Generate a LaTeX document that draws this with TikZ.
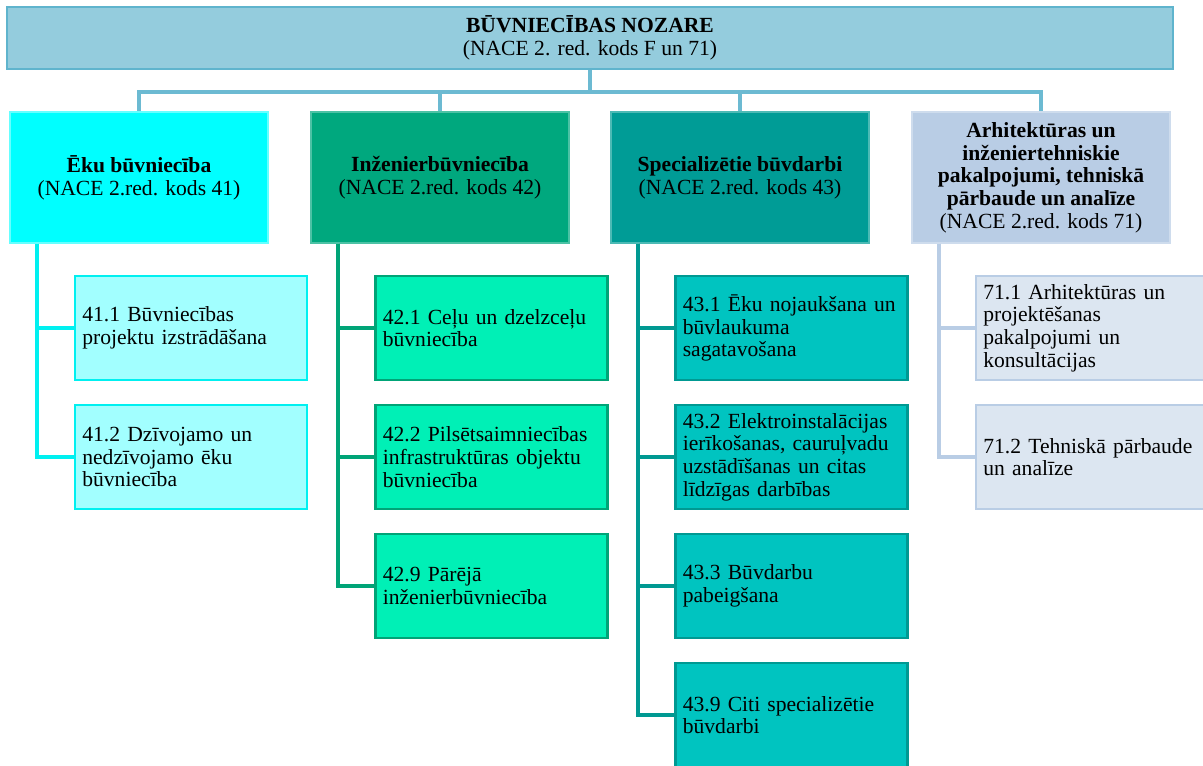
\documentclass[tikz,border=0pt]{standalone}
\usepackage{fontspec}
\setmainfont{Liberation Serif}
\usepackage{tikz}
\usetikzlibrary{calc}

\definecolor{topfill}{HTML}{94CCDD}
\definecolor{topline}{HTML}{5FB4CD}
\definecolor{busline}{HTML}{6CBAD2}
\definecolor{headA}{HTML}{00FFFF}
\definecolor{subA}{HTML}{A2FFFF}
\definecolor{lineA}{HTML}{00F0F0}
\definecolor{headB}{HTML}{00A87E}
\definecolor{subB}{HTML}{00F0B6}
\definecolor{lineB}{HTML}{00A477}
\definecolor{headC}{HTML}{009C96}
\definecolor{subC}{HTML}{00C4C0}
\definecolor{lineC}{HTML}{009992}
\definecolor{headD}{HTML}{B9CDE5}
\definecolor{subD}{HTML}{DCE6F1}
\definecolor{lineD}{HTML}{B9CDE5}

\begin{document}
\begin{tikzpicture}[x=0.75pt, y=-0.75pt,
    every node/.style={font=\fontsize{16.2}{17}\selectfont, inner sep=0pt},
    head/.style={minimum width=193.5pt, minimum height=98.25pt, align=center, line width=0.8pt},
    sub/.style={minimum width=174pt, minimum height=78pt, text width=163pt, inner xsep=5.5pt, align=left, line width=2.2pt},
    link/.style={line width=2.3pt}]

    %% Background
    \fill[white] (0,0) rectangle (1203,765);
    \clip (0,0) rectangle (1203,765);

    % Sector
    \node[draw=topline, fill=topfill, line width=2.2pt, minimum width=874.5pt, minimum height=46.5pt, align=center]
    (sector) at (590,38) {\textbf{BŪVNIECĪBAS NOZARE}\\(NACE 2. red. kods F un 71)};

    % Groups
    \node[head, fill=headA, draw=white!40!headA] (g41) at (139,177.5)
    {\textbf{Ēku būvniecība}\\(NACE 2.red. kods 41)};
    \node[head, fill=headB, draw=white!30!headB] (g42) at (440,177.5)
    {\textbf{Inženierbūvniecība}\\(NACE 2.red. kods 42)};
    \node[head, fill=headC, draw=white!30!headC] (g43) at (740,177.5)
    {\textbf{Specializētie būvdarbi}\\(NACE 2.red. kods 43)};
    \node[head, fill=headD, draw=white!30!headD] (g71) at (1041,177.5)
    {\textbf{Arhitektūras un}\\\textbf{inženiertehniskie}\\\textbf{pakalpojumi, tehniskā}\\\textbf{pārbaude un analīze}\\(NACE 2.red. kods 71)};

    % Bus
    \coordinate (bus) at (590,92);
    \draw[link, busline] (sector.south) -- (bus);
    \foreach \g in {g41,g42,g43,g71}
    {
    \draw[link, busline] (bus) -| (\g.north);
    }

    % Trunks
    \foreach \g/\c/\l in {g41/c411/lineA, g41/c412/lineA,
                          g42/c421/lineB, g42/c422/lineB, g42/c429/lineB,
                          g43/c431/lineC, g43/c432/lineC, g43/c433/lineC, g43/c439/lineC,
                          g71/c711/lineD, g71/c712/lineD}
    {
    \coordinate (\c-in) at ($(\g.south west)+(27.5,0)$);
    }

    % Classes 41
    \node[sub, fill=subA, draw=lineA] (c411) at (191,328) {41.1 Būvniecības\\projektu izstrādāšana};
    \node[sub, fill=subA, draw=lineA] (c412) at (191,457) {41.2 Dzīvojamo un\\nedzīvojamo ēku\\būvniecība};

    % Classes 42
    \node[sub, fill=subB, draw=lineB] (c421) at (491.5,328) {42.1 Ceļu un dzelzceļu\\būvniecība};
    \node[sub, fill=subB, draw=lineB] (c422) at (491.5,457) {42.2 Pilsētsaimniecības\\infrastruktūras objektu\\būvniecība};
    \node[sub, fill=subB, draw=lineB] (c429) at (491.5,586) {42.9 Pārējā\\inženierbūvniecība};

    % Classes 43
    \node[sub, fill=subC, draw=lineC] (c431) at (791.5,328) {43.1 Ēku nojaukšana un\\būvlaukuma\\sagatavošana};
    \node[sub, fill=subC, draw=lineC] (c432) at (791.5,457) {43.2 Elektroinstalācijas\\ierīkošanas, cauruļvadu\\uzstādīšanas un citas\\līdzīgas darbības};
    \node[sub, fill=subC, draw=lineC] (c433) at (791.5,586) {43.3 Būvdarbu\\pabeigšana};
    \node[sub, fill=subC, draw=lineC] (c439) at (791.5,715) {43.9 Citi specializētie\\būvdarbi};

    % Classes 71
    \node[sub, fill=subD, draw=lineD] (c711) at (1092,328) {71.1 Arhitektūras un\\projektēšanas\\pakalpojumi un\\konsultācijas};
    \node[sub, fill=subD, draw=lineD] (c712) at (1092,457) {71.2 Tehniskā pārbaude\\un analīze};

    \foreach \g/\c/\l in {g41/c411/lineA, g41/c412/lineA,
                          g42/c421/lineB, g42/c422/lineB, g42/c429/lineB,
                          g43/c431/lineC, g43/c432/lineC, g43/c433/lineC, g43/c439/lineC,
                          g71/c711/lineD, g71/c712/lineD}
    {
    \draw[link, \l] (\c-in) |- (\c.west);
    }

\end{tikzpicture}
\end{document}
